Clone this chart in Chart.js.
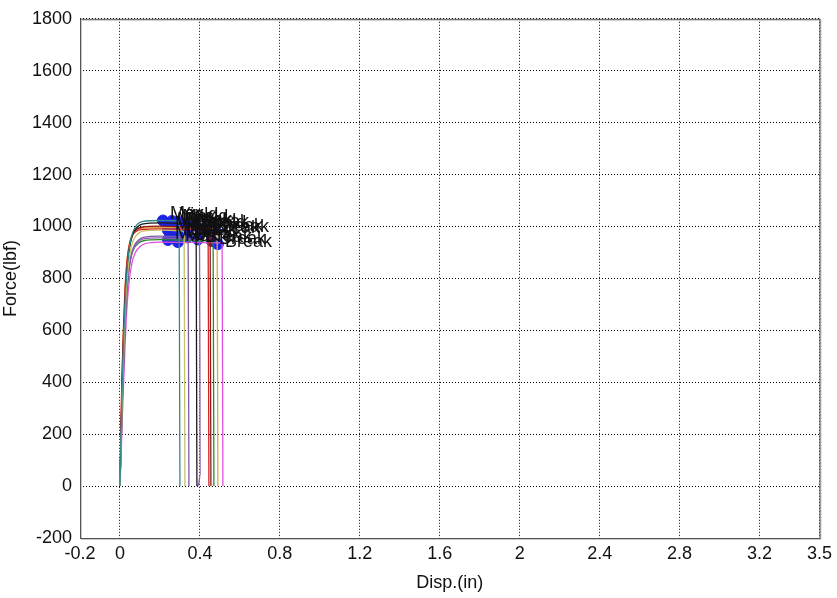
<!DOCTYPE html>
<html>
<head>
<meta charset="utf-8">
<script src="https://cdn.jsdelivr.net/npm/chart.js@4/dist/chart.umd.min.js"></script>
<style>
  body { margin: 0; background: #fff; }
  #wrap { width: 837px; height: 598px; }
</style>
</head>
<body>
<div id="wrap"><canvas id="forceChart" width="837" height="598"></canvas></div>
<script>
// Tick values
var xTicks = [-0.2, 0, 0.4, 0.8, 1.2, 1.6, 2, 2.4, 2.8, 3.2, 3.5];
var yTicks = [-200, 0, 200, 400, 600, 800, 1000, 1200, 1400, 1600, 1800];

// Force vs displacement per specimen [disp, force]
var spec1 = [[0,0],[0.005,180],[0.011,380],[0.019,580],[0.028,750],[0.038,860],[0.05,935],[0.066,982],[0.086,1008],[0.11,1019],[0.2,1023],[0.28,1022],[0.296,1014],[0.298,500],[0.3,0]];
var spec2 = [[0,0],[0.006,170],[0.012,370],[0.021,570],[0.03,735],[0.041,840],[0.053,910],[0.069,950],[0.09,972],[0.115,982],[0.2,986],[0.3,984],[0.321,978],[0.323,500],[0.325,0]];
var spec3 = [[0,0],[0.006,170],[0.013,365],[0.022,560],[0.032,725],[0.043,825],[0.056,890],[0.072,928],[0.093,948],[0.118,958],[0.2,963],[0.33,960],[0.341,955],[0.343,500],[0.345,0]];
var spec4 = [[0,0],[0.005,180],[0.011,380],[0.019,580],[0.028,745],[0.038,855],[0.05,928],[0.066,975],[0.087,998],[0.11,1009],[0.2,1014],[0.37,1011],[0.381,1004],[0.383,500],[0.385,0]];
var spec5 = [[0,0],[0.006,165],[0.013,355],[0.022,550],[0.032,715],[0.043,820],[0.056,885],[0.073,922],[0.094,942],[0.118,952],[0.2,956],[0.385,952],[0.398,946],[0.4,500],[0.401,40],[0.394,10],[0.39,0]];
var spec6 = [[0,0],[0.004,190],[0.009,390],[0.017,590],[0.025,755],[0.035,865],[0.047,930],[0.062,965],[0.082,982],[0.105,988],[0.2,991],[0.43,987],[0.441,980],[0.443,500],[0.445,0]];
var spec7 = [[0,0],[0.005,185],[0.01,385],[0.018,585],[0.027,755],[0.037,862],[0.049,930],[0.064,970],[0.085,990],[0.108,997],[0.2,1001],[0.44,997],[0.451,990],[0.453,500],[0.455,0]];
var spec8 = [[0,0],[0.006,170],[0.013,360],[0.022,555],[0.032,720],[0.043,825],[0.056,885],[0.072,918],[0.093,936],[0.118,945],[0.2,949],[0.455,945],[0.466,938],[0.468,500],[0.47,0]];
var spec9 = [[0,0],[0.004,190],[0.009,395],[0.017,595],[0.025,760],[0.035,870],[0.047,935],[0.062,970],[0.082,986],[0.105,993],[0.2,996],[0.475,992],[0.486,985],[0.488,500],[0.49,0]];
var spec10 = [[0,0],[0.007,150],[0.015,335],[0.025,530],[0.035,690],[0.047,795],[0.06,860],[0.077,900],[0.1,922],[0.125,934],[0.2,940],[0.5,937],[0.511,930],[0.513,500],[0.515,0]];

var specimens = [spec1, spec2, spec3, spec4, spec5, spec6, spec7, spec8, spec9, spec10];
var specColors = ["#2E8B8B", "#C8C068", "#7B5BA6", "#1A1A1A", "#9460B4", "#D42020", "#8B1A1A", "#2A8A2A", "#E0A840", "#E050E0"];

// Result points and their labels
var markX = [0.215, 0.24, 0.28, 0.275, 0.30, 0.33, 0.25, 0.24, 0.30, 0.29,
             0.29, 0.315, 0.335, 0.375, 0.39, 0.43, 0.445, 0.46, 0.475, 0.49,
             0.26, 0.31, 0.35, 0.40];
var markY = [1023, 985, 962, 1013, 955, 990, 1000, 948, 995, 940,
             1018, 980, 958, 1008, 950, 985, 995, 944, 990, 932,
             1021, 1012, 999, 989];
var markLabels = ["Max", "Max", "Max", "Max", "Max", "Max", "Max", "Max", "Max", "Max",
                  "Break", "Break", "Break", "Break", "Break", "Break", "Break", "Break", "Break", "Break",
                  "Yield", "Yield", "Yield", "Yield"];

var datasets = specimens.map(function (s, i) {
  return {
    data: s.map(function (p) { return { x: p[0], y: p[1] }; }),
    borderColor: specColors[i],
    borderWidth: 1.3,
    pointRadius: 0,
    cubicInterpolationMode: "monotone",
    fill: false,
  };
});

datasets.push({
  type: "scatter",
  data: markX.map(function (x, i) { return { x: x, y: markY[i] }; }),
  backgroundColor: "#1C22E8",
  borderColor: "#1C22E8",
  pointRadius: 5.5,
  showLine: false,
});

// Draws the Max / Yield / Break text next to each blue dot
var markLabelPlugin = {
  id: "markLabels",
  afterDatasetsDraw: function (chart) {
    var ctx = chart.ctx;
    var meta = chart.getDatasetMeta(chart.data.datasets.length - 1);
    ctx.save();
    ctx.font = "18px Arial, 'Liberation Sans'";
    ctx.fillStyle = "#111";
    ctx.textBaseline = "middle";
    meta.data.forEach(function (pt, i) {
      var dy = markLabels[i] == "Break" ? -2 : -6;
      ctx.fillText(markLabels[i], pt.x + 7, pt.y + dy);
    });
    ctx.restore();
  },
};

// Plot frame
var framePlugin = {
  id: "frame",
  afterDraw: function (chart) {
    var a = chart.chartArea;
    var ctx = chart.ctx;
    ctx.save();
    ctx.strokeStyle = "#c8c8c8";
    ctx.lineWidth = 1;
    ctx.strokeRect(a.left + 1.5, a.top + 1.5, a.right - a.left, a.bottom - a.top);
    ctx.strokeStyle = "#555";
    ctx.strokeRect(a.left + 0.5, a.top + 0.5, a.right - a.left, a.bottom - a.top);
    ctx.restore();
  },
};

new Chart(document.getElementById("forceChart").getContext("2d"), {
  type: "line",
  data: { datasets: datasets },
  options: {
    responsive: false,
    animation: false,
    layout: { padding: { top: 16, right: 15, left: 0, bottom: 4 } },
    plugins: {
      legend: { display: false },
      tooltip: { enabled: false },
    },
    scales: {
      x: {
        type: "linear",
        min: -0.2,
        max: 3.5,
        afterBuildTicks: function (axis) {
          axis.ticks = xTicks.map(function (v) { return { value: v }; });
        },
        afterFit: function (axis) { axis.height = 56; },
        ticks: {
          autoSkip: false,
          maxRotation: 0,
          padding: 5,
          color: "#111",
          font: { family: "Arial, 'Liberation Sans'", size: 18 },
          callback: function (v) { return String(v); },
        },
        grid: { color: "#000", lineWidth: 1, drawTicks: false },
        border: { display: false, dash: [1, 2] },
        title: {
          display: true,
          text: "Disp.(in)",
          color: "#111",
          padding: { top: 0, bottom: 0 },
          font: { family: "Arial, 'Liberation Sans'", size: 18 },
        },
      },
      y: {
        type: "linear",
        min: -200,
        max: 1800,
        afterBuildTicks: function (axis) {
          axis.ticks = yTicks.map(function (v) { return { value: v }; });
        },
        afterFit: function (axis) { axis.width = 80; },
        ticks: {
          padding: 8,
          color: "#111",
          font: { family: "Arial, 'Liberation Sans'", size: 18 },
          callback: function (v) { return String(v); },
        },
        grid: { color: "#000", lineWidth: 1, drawTicks: false },
        border: { display: false, dash: [1, 2] },
        title: {
          display: true,
          text: "Force(lbf)",
          color: "#111",
          padding: { top: 0, bottom: 0 },
          font: { family: "Arial, 'Liberation Sans'", size: 18 },
        },
      },
    },
  },
  plugins: [markLabelPlugin, framePlugin],
});
</script>
</body>
</html>
